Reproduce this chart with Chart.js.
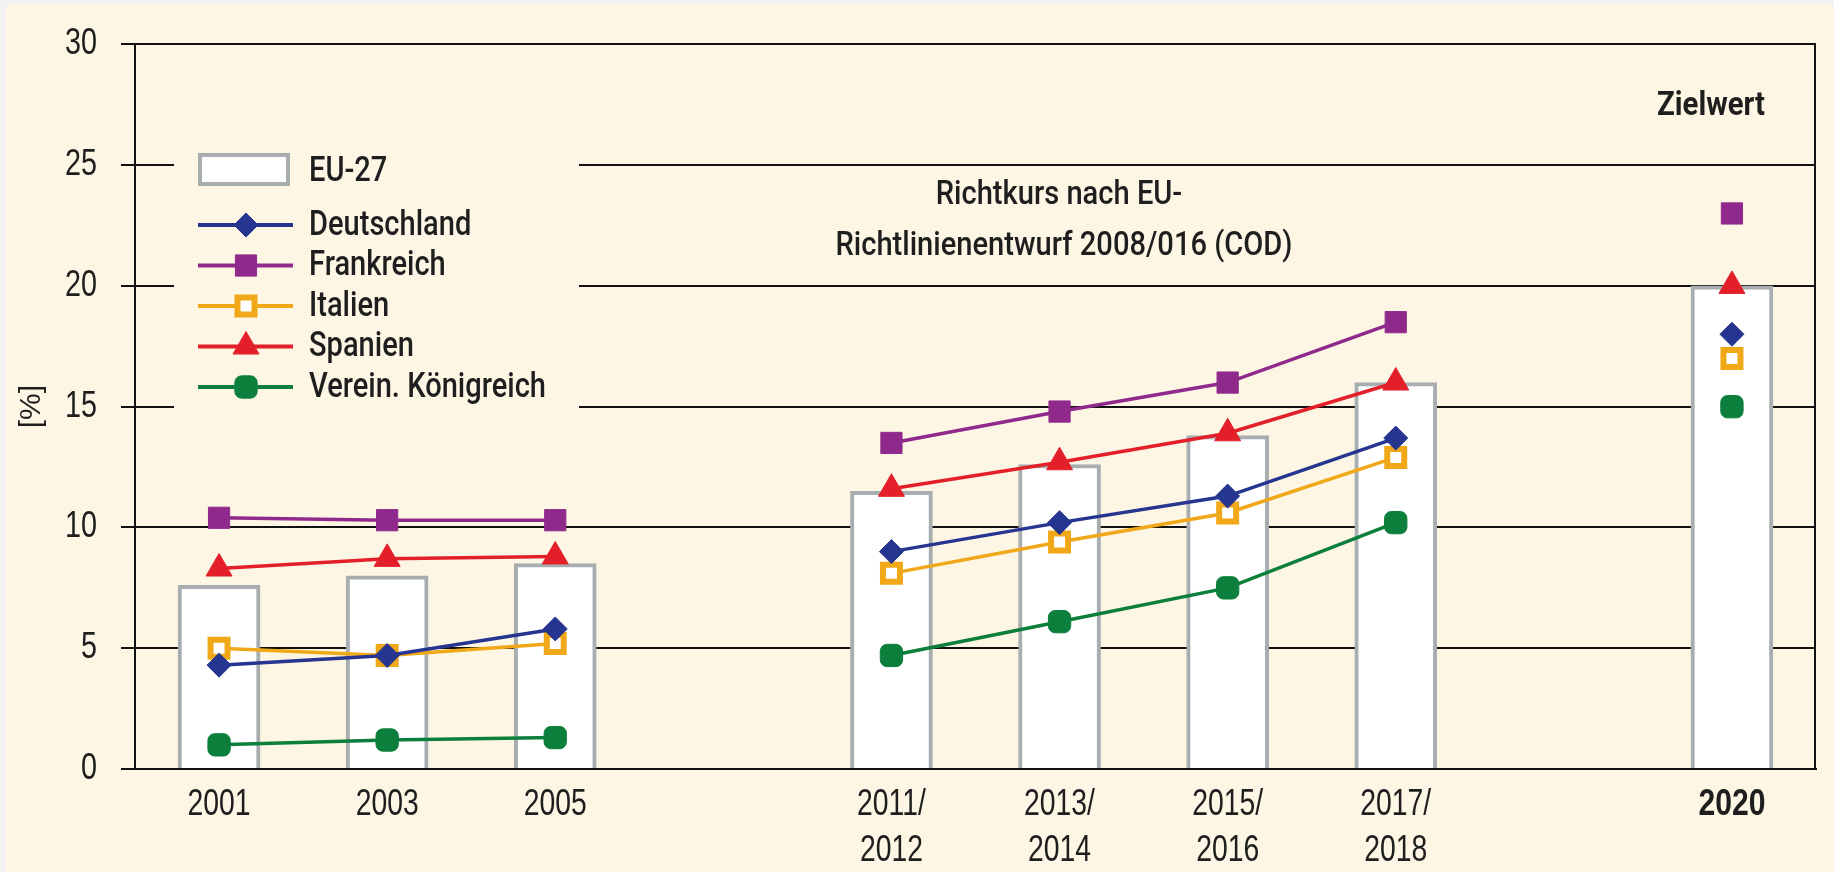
<!DOCTYPE html>
<html>
<head>
<meta charset="utf-8">
<script src="https://cdn.jsdelivr.net/npm/chart.js"></script>
<style>
html,body{margin:0;padding:0;background:#fef6e4;}
#wrap{width:1834px;height:872px;position:relative;}
canvas{display:block;}
</style>
</head>
<body>
<div id="wrap"><canvas id="c" width="1834" height="872"></canvas></div>
<script>
// ---- data ----
const categories = ['2001', '2003', '2005', '', ['2011/', '2012'], ['2013/', '2014'], ['2015/', '2016'], ['2017/', '2018'], '', '2020'];
const yTicks = [0, 5, 10, 15, 20, 25, 30];
const eu27        = [7.6, 8.0, 8.5, null, 11.5, 12.6, 13.8, 16.0, null, 20.0];
const deutschland = [4.3, 4.7, 5.8, null, 9.0, 10.2, 11.3, 13.7, null, 18.0];
const frankreich  = [10.4, 10.3, 10.3, null, 13.5, 14.8, 16.0, 18.5, null, 23.0];
const italien     = [5.0, 4.7, 5.2, null, 8.1, 9.4, 10.6, 12.9, null, 17.0];
const spanien     = [8.3, 8.7, 8.8, null, 11.6, 12.7, 13.9, 16.0, null, 20.0];
const vereinKoenigreich = [1.0, 1.2, 1.3, null, 4.7, 6.1, 7.5, 10.2, null, 15.0];
const seriesNames = ['EU-27', 'Deutschland', 'Frankreich', 'Italien', 'Spanien', 'Verein. Königreich'];
const yTitle = '[%]';
const noteRichtkurs = ['Richtkurs nach EU-', 'Richtlinienentwurf 2008/016 (COD)'];
const noteZiel = 'Zielwert';

// ---- styles ----
const TICKFONT = '"Liberation Sans", Arial, sans-serif';
const LABFONT = 'Roboto, "Liberation Sans", sans-serif';
const TXT = '#1e1e1e';
const BG = '#fef6e4';
const COL = {
  bar: '#a8adb0',
  de: '#26358f',
  fr: '#8f2a8c',
  it: '#f0a818',
  es: '#e3202a',
  uk: '#0b7f3b'
};

function lineDs(label, data, color, style, radius, extra) {
  return Object.assign({
    type: 'line',
    label: label,
    data: data,
    borderColor: color,
    backgroundColor: color,
    borderWidth: 3.5,
    pointStyle: style,
    pointRadius: radius,
    pointBackgroundColor: color,
    pointBorderColor: color,
    pointBorderWidth: 1,
    tension: 0,
    spanGaps: false,
    order: 1
  }, extra || {});
}

const datasets = [
  {
    type: 'bar',
    label: seriesNames[0],
    data: eu27,
    backgroundColor: '#ffffff',
    borderColor: COL.bar,
    borderWidth: 4,
    borderSkipped: 'start',
    barThickness: 82,
    order: 10
  },
  lineDs(seriesNames[1], deutschland, COL.de, 'rectRot', 12),
  lineDs(seriesNames[2], frankreich, COL.fr, 'rect', 15),
  lineDs(seriesNames[3], italien, COL.it, 'rect', 12, {pointBackgroundColor: '#ffffff', pointBorderWidth: 6}),
  lineDs(seriesNames[4], spanien, COL.es, 'triangle', 15),
  lineDs(seriesNames[5], vereinKoenigreich, COL.uk, 'rectRounded', 13)
];

// text drawn horizontally condensed (narrow typeface look)
function narrowText(ctx, text, x, y, font, sx, align, baseline) {
  ctx.save();
  ctx.font = font;
  ctx.textAlign = align || 'left';
  ctx.textBaseline = baseline || 'middle';
  ctx.translate(x, y);
  ctx.scale(sx, 1);
  ctx.fillText(text, 0, 0);
  ctx.restore();
}
function scaleFor(ctx, font, text, targetWidth) {
  ctx.save();
  ctx.font = font;
  const w = ctx.measureText(text).width;
  ctx.restore();
  return w > 0 ? targetWidth / w : 1;
}

const bgPlugin = {
  id: 'bg',
  beforeDraw(chart) {
    const ctx = chart.ctx;
    ctx.save();
    ctx.fillStyle = '#f2f2f2';
    ctx.fillRect(0, 0, chart.width, chart.height);
    ctx.fillStyle = BG;
    ctx.fillRect(6, 5, chart.width - 6, chart.height - 5);
    ctx.restore();
  }
};

function drawMarker(ctx, ds, x, y) {
  const opts = {
    pointStyle: ds.pointStyle,
    radius: ds.pointRadius,
    rotation: 0,
    borderWidth: ds.pointBorderWidth
  };
  ctx.fillStyle = ds.pointBackgroundColor;
  ctx.strokeStyle = ds.pointBorderColor;
  ctx.lineWidth = ds.pointBorderWidth;
  Chart.helpers.drawPoint(ctx, opts, x, y);
}

const overlayPlugin = {
  id: 'overlay',
  beforeDatasetsDraw(chart) {
    const ctx = chart.ctx;
    const a = chart.chartArea;
    ctx.save();
    // right frame line
    ctx.strokeStyle = '#111';
    ctx.lineWidth = 2;
    ctx.beginPath();
    ctx.moveTo(a.right - 1, a.top);
    ctx.lineTo(a.right - 1, a.bottom);
    ctx.stroke();

    // legend area (covers grid lines)
    ctx.fillStyle = BG;
    ctx.fillRect(174, 140, 405, 276);

    const sw0 = 198, sw1 = 293, tx = 309;
    const lf = '500 35px ' + LABFONT;
    const lsx = scaleFor(ctx, lf, seriesNames[5], 237);
    const bar = chart.data.datasets[0];
    ctx.fillStyle = '#ffffff';
    ctx.fillRect(sw0, 153, sw1 - sw0 - 3, 33);
    ctx.strokeStyle = bar.borderColor;
    ctx.lineWidth = 4;
    ctx.strokeRect(sw0 + 2, 155, sw1 - sw0 - 7, 29);
    ctx.fillStyle = TXT;
    narrowText(ctx, bar.label, tx, 172, lf, lsx);

    for (let i = 1; i < chart.data.datasets.length; i++) {
      const ds = chart.data.datasets[i];
      const y = 225 + (i - 1) * 40.5;
      ctx.strokeStyle = ds.borderColor;
      ctx.lineWidth = 4;
      ctx.beginPath();
      ctx.moveTo(sw0, y);
      ctx.lineTo(sw1, y);
      ctx.stroke();
      drawMarker(ctx, ds, 246, y);
      ctx.fillStyle = TXT;
      narrowText(ctx, ds.label, tx, y + 1, lf, lsx);
    }

    // notes
    const nf = '500 33px ' + LABFONT;
    const nsx = scaleFor(ctx, nf, noteRichtkurs[1], 457);
    ctx.fillStyle = TXT;
    narrowText(ctx, noteRichtkurs[0], 1059, 196, nf, nsx, 'center');
    narrowText(ctx, noteRichtkurs[1], 1064, 247, nf, nsx, 'center');
    const zf = 'bold 33px ' + LABFONT;
    narrowText(ctx, noteZiel, 1711, 107, zf, scaleFor(ctx, zf, noteZiel, 108), 'center');
    ctx.restore();
  },
  afterDraw(chart) {
    // tick labels, narrow style, positioned by the scales
    const ctx = chart.ctx;
    const xs = chart.scales.x, ys = chart.scales.y;
    ctx.save();
    ctx.fillStyle = TXT;
    const tf = '36px ' + TICKFONT;
    const tfb = 'bold 36px ' + TICKFONT;
    const sx = scaleFor(ctx, tf, '2001', 63);
    const sxb = scaleFor(ctx, tfb, '2020', 67);
    const top = xs.top + 13;
    const lh = 46;
    xs.ticks.forEach((t, i) => {
      const lab = categories[i];
      const lines = Array.isArray(lab) ? lab : [lab];
      const x = xs.getPixelForTick(i);
      const bold = i === categories.length - 1;
      lines.forEach((ln, k) => {
        if (ln) narrowText(ctx, ln, x, top + lh / 2 + k * lh, bold ? tfb : tf, bold ? sxb : sx, 'center');
      });
    });
    const ysx = scaleFor(ctx, tf, '30', 32);
    yTicks.forEach(v => {
      narrowText(ctx, String(v), ys.right - 14 - 24, ys.getPixelForValue(v), tf, ysx, 'right');
    });
    ctx.restore();
  }
};

new Chart(document.getElementById('c'), {
  type: 'bar',
  data: { labels: categories, datasets: datasets },
  plugins: [bgPlugin, overlayPlugin],
  options: {
    responsive: false,
    devicePixelRatio: 1,
    animation: false,
    events: [],
    layout: { padding: { top: 44, right: 2, left: 6, bottom: 0 } },
    plugins: {
      legend: { display: false },
      tooltip: { enabled: false },
      title: { display: false }
    },
    scales: {
      x: {
        type: 'category',
        offset: true,
        z: 1,
        grid: { display: false },
        border: { display: true, color: '#111', width: 2 },
        ticks: {
          color: 'rgba(0,0,0,0)',
          padding: 13,
          autoSkip: false,
          maxRotation: 0,
          font: { family: TICKFONT, size: 34, lineHeight: 1.35 }
        },
        afterFit(scale) { scale.height = 103; }
      },
      y: {
        min: 0,
        max: 30,
        afterBuildTicks(scale) { scale.ticks = yTicks.map(v => ({ value: v })); },
        grid: { color: '#111', lineWidth: 2, tickLength: 14, drawTicks: true },
        border: { display: true, color: '#111', width: 2 },
        ticks: {
          color: 'rgba(0,0,0,0)',
          padding: 24,
          font: { family: TICKFONT, size: 34 }
        },
        title: {
          display: true,
          text: yTitle,
          color: TXT,
          font: { family: TICKFONT, size: 30 },
          padding: { top: 8, bottom: 0 }
        },
        afterFit(scale) { scale.width = 129; }
      }
    }
  }
});
</script>
</body>
</html>
